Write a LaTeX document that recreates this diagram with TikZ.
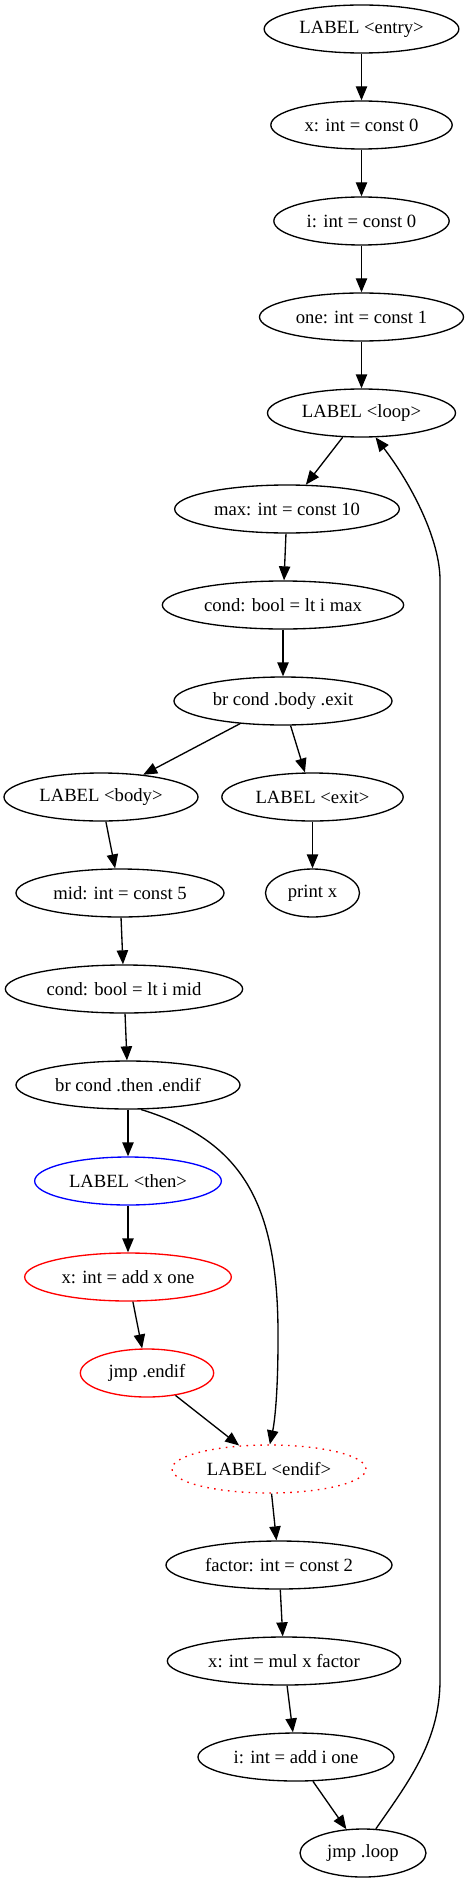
\documentclass[tikz,border=0pt]{standalone}
\usepackage{fontspec}
\setmainfont{Liberation Serif}
\usetikzlibrary{shapes.geometric,arrows.meta}
\tikzset{
  gnode/.style={ellipse,draw,line width=1pt,inner sep=0pt,minimum height=36pt,font=\fontsize{14}{16}\selectfont},
  edge/.style={line width=1pt,-{Triangle[length=10.5pt,width=8.5pt]}}
}
\begin{document}
\begin{tikzpicture}[x=0.75pt,y=-0.75pt]
\useasboundingbox (0,0) rectangle (469,1883);
\node[gnode,minimum width=146pt] (entry) at (361.5,29) {LABEL <entry>};
\node[gnode,minimum width=136pt] (x0) at (361.5,125) {x: int = const 0};
\node[gnode,minimum width=131.5pt] (i0) at (361.5,221) {i: int = const 0};
\node[gnode,minimum width=153pt] (one) at (361.5,317) {one: int = const 1};
\node[gnode,minimum width=141pt] (loop) at (361.5,413) {LABEL <loop>};
\node[gnode,minimum width=168.5pt] (max) at (287,509) {max: int = const 10};
\node[gnode,minimum width=181pt] (condmax) at (283,605) {cond: bool = lt i max};
\node[gnode,minimum width=163.5pt] (brbody) at (283,701) {br cond .body .exit};
\node[gnode,minimum width=145.5pt] (body) at (101,797) {LABEL <body>};
\node[gnode,minimum width=136pt] (exit) at (312.5,797) {LABEL <exit>};
\node[gnode,minimum width=156pt] (mid) at (120,893) {mid: int = const 5};
\node[gnode,minimum width=70.5pt] (print) at (312.5,893) {print x};
\node[gnode,minimum width=178pt] (condmid) at (124,989) {cond: bool = lt i mid};
\node[gnode,minimum width=168pt] (brthen) at (128,1085) {br cond .then .endif};
\node[gnode,minimum width=140pt,draw=blue] (then) at (128,1181) {LABEL <then>};
\node[gnode,minimum width=155pt,draw=red] (addx) at (128,1277) {x: int = add x one};
\node[gnode,minimum width=100pt,draw=red] (jmpendif) at (147,1373) {jmp .endif};
\node[gnode,minimum width=145.5pt,draw=red,dash pattern=on 1.2pt off 4pt] (endif) at (269,1469) {LABEL <endif>};
\node[gnode,minimum width=169.5pt] (factor) at (279,1565) {factor: int = const 2};
\node[gnode,minimum width=175pt] (mul) at (284,1661) {x: int = mul x factor};
\node[gnode,minimum width=147pt] (addi) at (296,1757) {i: int = add i one};
\node[gnode,minimum width=94.5pt] (jmploop) at (363,1853) {jmp .loop};

\draw[edge] (entry) -- (x0);
\draw[edge] (x0) -- (i0);
\draw[edge] (i0) -- (one);
\draw[edge] (one) -- (loop);
\draw[edge] (loop) -- (max);
\draw[edge] (max) -- (condmax);
\draw[edge] (condmax) -- (brbody);
\draw[edge] (brbody) -- (body);
\draw[edge] (brbody) -- (exit);
\draw[edge] (body) -- (mid);
\draw[edge] (exit) -- (print);
\draw[edge] (mid) -- (condmid);
\draw[edge] (condmid) -- (brthen);
\draw[edge] (brthen) -- (then);
\draw[edge] (then) -- (addx);
\draw[edge] (addx) -- (jmpendif);
\draw[edge] (jmpendif) -- (endif);
\draw[edge] (endif) -- (factor);
\draw[edge] (factor) -- (mul);
\draw[edge] (mul) -- (addi);
\draw[edge] (addi) -- (jmploop);

\draw[edge] (brthen.-62) .. controls (240,1140) and (279,1200) .. (278,1340) .. controls (278,1390) and (275,1420) .. (endif.88);
\draw[edge] (jmploop.62) .. controls (410,1780) and (440,1740) .. (440,1680) -- (440,580) .. controls (440,540) and (412,485) .. (loop.-60);
\end{tikzpicture}
\end{document}
